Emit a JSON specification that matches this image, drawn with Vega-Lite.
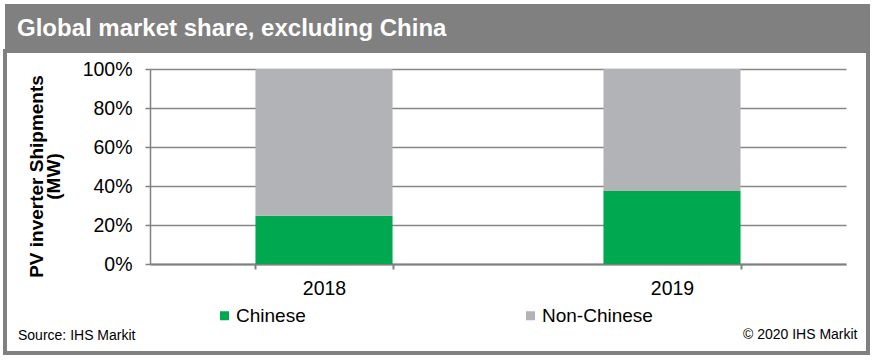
{
  "$schema": "https://vega.github.io/schema/vega-lite/v6.json",
  "background": "white",
  "padding": {"left": 3, "top": 4, "right": 5, "bottom": 2},
  "spacing": 0,
  "config": {
    "font": "Liberation Sans",
    "concat": {"spacing": 0}
  },
  "vconcat": [
    {
      "width": 865,
      "height": 45,
      "view": {"fill": "#808080", "stroke": null},
      "title": {
        "text": "Global market share, excluding China",
        "orient": "bottom",
        "anchor": "start",
        "frame": "group",
        "offset": -13,
        "dx": 12,
        "baseline": "alphabetic",
        "color": "white",
        "fontSize": 24,
        "fontWeight": "bold",
        "font": "Liberation Sans"
      },
      "data": {"values": [{"a": 1}]},
      "mark": {"type": "point", "opacity": 0},
      "encoding": {}
    },
    {
      "width": 863,
      "height": 302,
      "view": {"fill": "white", "stroke": "#808080", "strokeWidth": 4},
      "title": {
        "text": "Source: IHS Markit",
        "orient": "bottom",
        "anchor": "start",
        "frame": "group",
        "offset": -13,
        "dx": 13,
        "baseline": "alphabetic",
        "fontSize": 14,
        "fontWeight": "normal",
        "color": "black"
      },
      "data": {
        "values": [
          {"year": "2018", "group": "Chinese", "share": 0.247},
          {"year": "2018", "group": "Non-Chinese", "share": 0.753},
          {"year": "2019", "group": "Chinese", "share": 0.374},
          {"year": "2019", "group": "Non-Chinese", "share": 0.626}
        ]
      },
      "mark": {"type": "bar"},
      "encoding": {
        "x": {
          "field": "year",
          "type": "nominal",
          "scale": {"range": [145, 841], "paddingInner": 0.606, "paddingOuter": 0.303},
          "axis": {
            "orient": "bottom",
            "offset": -89,
            "title": "© 2020 IHS Markit",
            "titleX": 852,
            "titleY": 74,
            "titleAlign": "right",
            "titleBaseline": "alphabetic",
            "titleFontSize": 14,
            "titleFontWeight": "normal",
            "titleColor": "black",
            "labelAngle": 0,
            "labelFontSize": 19.5,
            "labelPadding": 10,
            "labelColor": "black",
            "tickBand": "extent",
            "tickSize": 5,
            "tickColor": "#808080",
            "tickWidth": 2,
            "domainColor": "#808080",
            "domainWidth": 2,
            "grid": false
          }
        },
        "y": {
          "field": "share",
          "type": "quantitative",
          "stack": "zero",
          "scale": {"domain": [0, 1], "range": [213, 18], "nice": false},
          "axis": {
            "orient": "left",
            "offset": -145,
            "format": ".0%",
            "values": [0, 0.2, 0.4, 0.6, 0.8, 1],
            "title": ["PV inverter Shipments", "(MW)"],
            "titleAngle": -90,
            "titleX": -108,
            "titleY": 125,
            "titleAlign": "center",
            "titleBaseline": "alphabetic",
            "titleFontSize": 19,
            "titleFontWeight": "bold",
            "titleLineHeight": 17,
            "titleColor": "black",
            "labelFontSize": 19.5,
            "labelPadding": 13,
            "labelColor": "black",
            "tickSize": 5,
            "tickColor": "#808080",
            "tickWidth": 1.5,
            "grid": true,
            "gridColor": "#868686",
            "gridWidth": 1.5,
            "domainColor": "#808080",
            "domainWidth": 1.5
          }
        },
        "order": {"field": "group", "sort": "ascending"},
        "color": {
          "field": "group",
          "type": "nominal",
          "scale": {"domain": ["Chinese", "Non-Chinese"], "range": ["#00A94F", "#B1B3B6"]},
          "legend": {
            "orient": "none",
            "legendX": 210,
            "legendY": 302,
            "direction": "horizontal",
            "columns": 2,
            "title": null,
            "symbolType": "square",
            "symbolSize": 81,
            "symbolStrokeWidth": 0,
            "labelFontSize": 19,
            "labelOffset": 2,
            "columnPadding": 215,
            "padding": 0,
            "labelColor": "black"
          }
        }
      }
    }
  ]
}
